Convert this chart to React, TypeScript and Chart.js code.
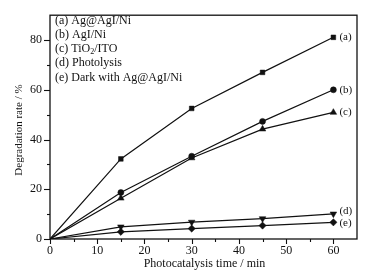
import React, { useEffect, useRef } from 'react';
import { Chart, registerables } from 'chart.js';

Chart.register(...registerables);

const times = [0, 15, 30, 45, 60];
const seriesA = [0, 32.2, 52.5, 67.0, 81.1];
const seriesB = [0, 18.7, 33.3, 47.3, 60.0];
const seriesC = [0, 16.4, 32.6, 44.2, 50.9];
const seriesD = [0, 4.9, 6.8, 8.2, 10.1];
const seriesE = [0, 2.9, 4.2, 5.4, 6.7];
const seriesTags = ['(a)', '(b)', '(c)', '(d)', '(e)'];
const legendLines = ['(a) Ag@AgI/Ni', '(b) AgI/Ni', '(c) TiO|2|/ITO', '(d) Photolysis', '(e) Dark with Ag@AgI/Ni'];
const xTitle = 'Photocatalysis time / min';
const yTitle = 'Degradation rate / %';
const xMinorTicks = [5, 15, 25, 35, 45, 55];
const yMinorTicks = [10, 30, 50, 70];

const FONT = '"Liberation Serif", "Times New Roman", serif';

const overlay = {
  id: 'overlay',
  afterDraw(chart: any) {
    const ctx = chart.ctx;
    const { left, right, top, bottom } = chart.chartArea;
    const xs = chart.scales.x;
    const ys = chart.scales.y;
    ctx.save();
    ctx.strokeStyle = '#111';
    ctx.fillStyle = '#111';
    ctx.lineWidth = 1.3;
    ctx.strokeRect(left, top, right - left, bottom - top);
    ctx.lineWidth = 1.1;
    xs.ticks.forEach((t: any) => {
      if (t.value % 10 !== 0) return;
      const px = Math.round(xs.getPixelForValue(t.value)) + 0.5;
      ctx.beginPath(); ctx.moveTo(px, bottom); ctx.lineTo(px, bottom + 5); ctx.stroke();
    });
    xMinorTicks.forEach((v) => {
      const px = Math.round(xs.getPixelForValue(v)) + 0.5;
      ctx.beginPath(); ctx.moveTo(px, bottom); ctx.lineTo(px, bottom + 3); ctx.stroke();
    });
    ys.ticks.forEach((t: any) => {
      if (t.value % 20 !== 0) return;
      const py = Math.round(ys.getPixelForValue(t.value)) + 0.5;
      ctx.beginPath(); ctx.moveTo(left - 6, py); ctx.lineTo(left, py); ctx.stroke();
    });
    yMinorTicks.forEach((v) => {
      const py = Math.round(ys.getPixelForValue(v)) + 0.5;
      ctx.beginPath(); ctx.moveTo(left - 3, py); ctx.lineTo(left, py); ctx.stroke();
    });

    ctx.font = `12px ${FONT}`;
    ctx.textAlign = 'center';
    ctx.textBaseline = 'middle';
    ctx.fillText(xTitle, (xs.getPixelForValue(0) + xs.getPixelForValue(65)) / 2 + 1, 264);
    ctx.save();
    ctx.font = `11px ${FONT}`;
    ctx.translate(19, 130);
    ctx.rotate(-Math.PI / 2);
    ctx.fillText(yTitle, 0, 0);
    ctx.restore();

    ctx.textAlign = 'left';
    ctx.textBaseline = 'middle';
    legendLines.forEach((line, i) => {
      const y = 21 + i * 14.1;
      let x = left + 5;
      const parts = line.split('|');
      parts.forEach((p, j) => {
        if (j % 2 === 1) {
          ctx.font = `8px ${FONT}`;
          ctx.fillText(p, x, y + 3);
          x += ctx.measureText(p).width;
        } else {
          ctx.font = `12px ${FONT}`;
          ctx.fillText(p, x, y);
          x += ctx.measureText(p).width;
        }
      });
    });

    ctx.font = `11px ${FONT}`;
    const offsets = [0, 0, 0, -3, 1];
    chart.data.datasets.forEach((ds: any, i: number) => {
      const meta = chart.getDatasetMeta(i);
      const last = meta.data[meta.data.length - 1];
      ctx.fillText(seriesTags[i], last.x + 6, last.y + offsets[i]);
    });
    ctx.restore();
  },
};

export default function App() {
  const ref = useRef<HTMLCanvasElement>(null);
  useEffect(() => {
    const mk = (data: number[], style: string, rotation = 0, r = 3.2) => ({
      data: times.map((t, i) => ({ x: t, y: data[i] })),
      borderColor: '#111',
      backgroundColor: '#111',
      borderWidth: 1.2,
      pointStyle: style,
      pointRotation: rotation,
      pointRadius: (c: any) => (c.dataIndex === 0 ? 0 : r),
      pointBorderWidth: 0.5,
      pointBorderColor: '#111',
      pointBackgroundColor: '#111',
      tension: 0,
    });
    const chart = new Chart(ref.current!, {
      type: 'line',
      data: {
        datasets: [
          mk(seriesA, 'rect', 0, 3.3),
          mk(seriesB, 'circle', 0, 3.0),
          mk(seriesC, 'triangle', 0, 3.8),
          mk(seriesD, 'triangle', 180, 3.8),
          mk(seriesE, 'rectRot', 0, 3.6),
        ] as any,
      },
      plugins: [overlay],
      options: {
        animation: false,
        responsive: false,
        devicePixelRatio: 1,
        layout: { padding: { left: 0, top: 11, right: 11, bottom: 0 } },
        plugins: { legend: { display: false }, tooltip: { enabled: false } },
        scales: {
          x: {
            type: 'linear',
            min: 0,
            max: 65,
            afterFit: (s: any) => { s.height = 41; },
            grid: { display: false, drawTicks: false },
            border: { display: false },
            ticks: {
              stepSize: 10,
              padding: 5,
              color: '#111',
              font: { family: FONT, size: 12 },
              callback: (v: any) => (v % 10 === 0 && v <= 60 ? String(v) : ''),
            },
          },
          y: {
            type: 'linear',
            min: 0,
            max: 90,
            afterFit: (s: any) => { s.width = 50; },
            grid: { display: false, drawTicks: false },
            border: { display: false },
            ticks: {
              stepSize: 10,
              padding: 8,
              color: '#111',
              font: { family: FONT, size: 12 },
              callback: (v: any) => (v % 20 === 0 ? String(v) : ''),
            },
          },
        },
      },
    });
    return () => chart.destroy();
  }, []);
  return (
    <div style={{ position: 'fixed', left: 0, top: 0, width: 368, height: 280, background: '#fff' }}>
      <canvas ref={ref} width={368} height={280} style={{ width: 368, height: 280 }} />
    </div>
  );
}
